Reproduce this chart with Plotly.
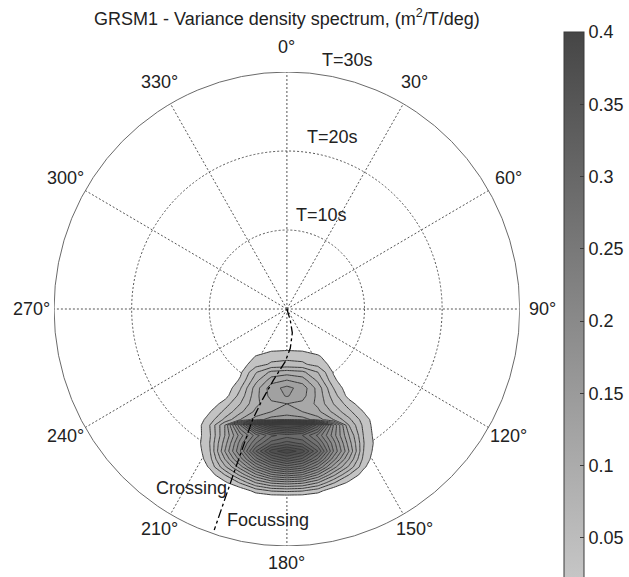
import numpy as np
import plotly.graph_objects as go

# ---- spectrum on a grid in the direction plane (units: seconds of period) ----
grid_x = [-14, -12, -10, -8, -6, -4, -2, 0, 2, 4, 6, 8, 10, 12, 14]
grid_depth = [4, 5, 6, 7, 8, 9, 10, 11, 12, 13, 14, 14.7, 16, 17, 18, 19, 20, 21, 22, 23, 24, 25]
density = [
    [0, 0, 0, 0, 0, 0, 0, 0, 0, 0, 0, 0, 0, 0, 0],
    [0, 0, 0, 0, 0, .008, .013, .015, .013, .008, 0, 0, 0, 0, 0],
    [0, 0, 0, 0, .004, .021, .033, .035, .034, .023, .006, 0, 0, 0, 0],
    [0, 0, 0, 0, .010, .031, .043, .045, .043, .033, .012, 0, 0, 0, 0],
    [0, 0, 0, 0, .016, .058, .085, .090, .085, .060, .018, 0, 0, 0, 0],
    [0, 0, 0, 0, .023, .073, .110, .120, .110, .075, .025, 0, 0, 0, 0],
    [0, 0, 0, .004, .038, .090, .132, .146, .132, .092, .040, .005, 0, 0, 0],
    [0, 0, 0, .011, .048, .093, .128, .142, .128, .094, .050, .012, 0, 0, 0],
    [0, 0, .004, .030, .060, .095, .115, .120, .115, .095, .060, .030, .004, 0, 0],
    [0, 0, .018, .045, .075, .105, .120, .125, .120, .105, .075, .045, .018, 0, 0],
    [0, .004, .028, .065, .100, .130, .150, .160, .150, .130, .100, .065, .028, .004, 0],
    [0, .003, .038, .100, .220, .330, .390, .410, .390, .310, .180, .080, .032, .003, 0],
    [0, .005, .035, .100, .170, .230, .275, .290, .280, .235, .170, .100, .035, .005, 0],
    [0, .006, .038, .110, .190, .260, .310, .330, .315, .265, .190, .110, .038, .006, 0],
    [0, .004, .035, .120, .200, .300, .370, .395, .370, .300, .200, .120, .035, .004, 0],
    [0, .002, .030, .100, .170, .250, .310, .340, .315, .255, .170, .100, .030, .002, 0],
    [0, 0, .022, .075, .130, .195, .245, .270, .250, .200, .130, .075, .022, 0, 0],
    [0, 0, .008, .040, .085, .135, .175, .190, .178, .138, .085, .040, .008, 0, 0],
    [0, 0, 0, .015, .042, .080, .103, .110, .104, .080, .042, .015, 0, 0, 0],
    [0, 0, 0, 0, .005, .028, .042, .045, .042, .028, .005, 0, 0, 0, 0],
    [0, 0, 0, 0, 0, 0, 0, 0, 0, 0, 0, 0, 0, 0, 0],
    [0, 0, 0, 0, 0, 0, 0, 0, 0, 0, 0, 0, 0, 0, 0],
]

# ---- crossing / focussing separation line (period, direction in deg) ----
path_period = [0, 1.5, 3.1, 5.0, 6.7, 9.2, 12.0, 14.7, 21.4, 29.5]
path_dir = [160, 163, 167, 175, 182, 191, 195.5, 197.5, 198.2, 198.5]

# ---- polar grid ----
ring_periods = [10, 20, 30]
ring_labels = ["T=10s", "T=20s", "T=30s"]
spoke_dirs = list(range(0, 360, 30))

cbar_ticks = [0.05, 0.1, 0.15, 0.2, 0.25, 0.3, 0.35, 0.4]
cbar_text = ["0.05", "0.1", "0.15", "0.2", "0.25", "0.3", "0.35", "0.4"]

FONT = "Liberation Sans, Arial, sans-serif"
TXT = "#222222"
FS = 18
W, H = 629, 577
R_MAX = 30.0
# square plotting box (pixels)
box_l, box_r, box_t, box_b = 55, 529, 72, 546


def to_paper(x, y, dy_px=0.0):
    """Map data coordinates of the (hidden) square axes to paper fractions."""
    px = box_l + (x + R_MAX) / (2 * R_MAX) * (box_r - box_l)
    py = box_b - (y + R_MAX) / (2 * R_MAX) * (box_b - box_t) + dy_px
    return px / W, 1 - py / H


# grey ramp shared by the fill and the colour bar
zmin, zmax = 0.0, 0.4
g_lo, g_hi = 205.0, 70.0


def grey(v):
    g = g_lo + (g_hi - g_lo) * (v - zmin) / (zmax - zmin)
    return f"rgb({g:.0f},{g:.0f},{g:.0f})"


c_start, c_end, c_size = 0.02, 0.38, 0.02
# contour fill colours are spread over [start - size/2, end + size/2]
lo_v, hi_v = c_start - c_size / 2, c_end + c_size / 2
cut = 0.02
fill_scale = [
    [0, "rgba(255,255,255,0)"],
    [cut, "rgba(255,255,255,0)"],
    [cut + 1e-4, grey(lo_v + (cut + 1e-4) * (hi_v - lo_v))],
    [1, grey(hi_v)],
]

fig = go.Figure()

# filled contours of the spectrum
fig.add_trace(go.Contour(
    x=grid_x,
    y=[-d for d in grid_depth],
    z=density,
    contours=dict(start=c_start, end=c_end, size=c_size, coloring="fill"),
    colorscale=fill_scale,
    line=dict(color="#3a3a3a", width=1, smoothing=0),
    showscale=False,
    hoverinfo="skip",
))

# separation line
pth = np.radians(path_dir)
fig.add_trace(go.Scatter(
    x=np.array(path_period) * np.sin(pth),
    y=np.array(path_period) * np.cos(pth),
    mode="lines",
    line=dict(color="black", width=1.3, dash="dashdot"),
    hoverinfo="skip",
))

# colour bar carrier
fig.add_trace(go.Scatter(
    x=[0], y=[0], mode="markers",
    marker=dict(
        size=1, opacity=0, color=[0], cmin=zmin, cmax=zmax,
        colorscale=[[0, grey(zmin)], [1, grey(zmax)]],
        showscale=True,
        colorbar=dict(
            x=574 / W, xanchor="left", xpad=0,
            y=1 - 32 / H, yanchor="top", ypad=0,
            lenmode="pixels", len=578,
            thickness=20, thicknessmode="pixels",
            outlinewidth=1, outlinecolor="#3a3a3a",
            tickvals=cbar_ticks, ticktext=cbar_text,
            ticks="inside", ticklen=4, tickcolor="#3a3a3a",
            tickfont=dict(family=FONT, size=FS, color=TXT),
        ),
    ),
    hoverinfo="skip",
))

shapes = []
for r in ring_periods:
    outer = r == R_MAX
    shapes.append(dict(
        type="circle", xref="x", yref="y", x0=-r, y0=-r, x1=r, y1=r,
        line=dict(color="#6a6a6a" if outer else "#555555", width=1,
                  dash="solid" if outer else "2px,2px"),
        layer="above" if outer else "below",
    ))
for d in spoke_dirs:
    a = np.radians(d)
    shapes.append(dict(
        type="line", xref="x", yref="y", x0=0, y0=0,
        x1=R_MAX * np.sin(a), y1=R_MAX * np.cos(a),
        line=dict(color="#555555", width=1, dash="2px,2px"),
        layer="below",
    ))


def label(x, y, text, dy_px=0.0):
    px, py = to_paper(x, y, dy_px)
    return dict(x=px, y=py, xref="paper", yref="paper", text=text, showarrow=False,
                xanchor="center", yanchor="middle",
                font=dict(family=FONT, size=FS, color=TXT))


ann = []
# direction labels sit just outside the outer ring
lab_rx, lab_ry = 1.097 * R_MAX, 1.088 * R_MAX
for d in spoke_dirs:
    a = np.radians(d)
    ann.append(label(lab_rx * np.sin(a), lab_ry * np.cos(a), f"{d}°",
                     dy_px=-4 * abs(np.cos(a))))
ring_label_pos = [(4.43, 11.9), (5.82, 21.77), (7.8, 31.5)]
for (lx, ly), t in zip(ring_label_pos, ring_labels):
    ann.append(label(lx, ly, t))
ann.append(label(-12.3, -22.7, "Crossing"))
ann.append(label(-2.4, -26.7, "Focussing"))
ann.append(dict(x=292 / W, y=1 - 18 / H, xref="paper", yref="paper",
                text="GRSM1 - Variance density spectrum, (m<sup>2</sup>/T/deg)",
                showarrow=False, xanchor="center", yanchor="middle",
                font=dict(family=FONT, size=FS, color=TXT)))

fig.update_layout(
    width=W, height=H, autosize=False,
    margin=dict(l=0, r=0, t=0, b=0),
    paper_bgcolor="white", plot_bgcolor="white",
    showlegend=False,
    xaxis=dict(domain=[box_l / W, box_r / W], range=[-R_MAX, R_MAX], visible=False, fixedrange=True),
    yaxis=dict(domain=[1 - box_b / H, 1 - box_t / H], range=[-R_MAX, R_MAX], visible=False, fixedrange=True),
    shapes=shapes,
    annotations=ann,
)

fig.write_html("out.html")
